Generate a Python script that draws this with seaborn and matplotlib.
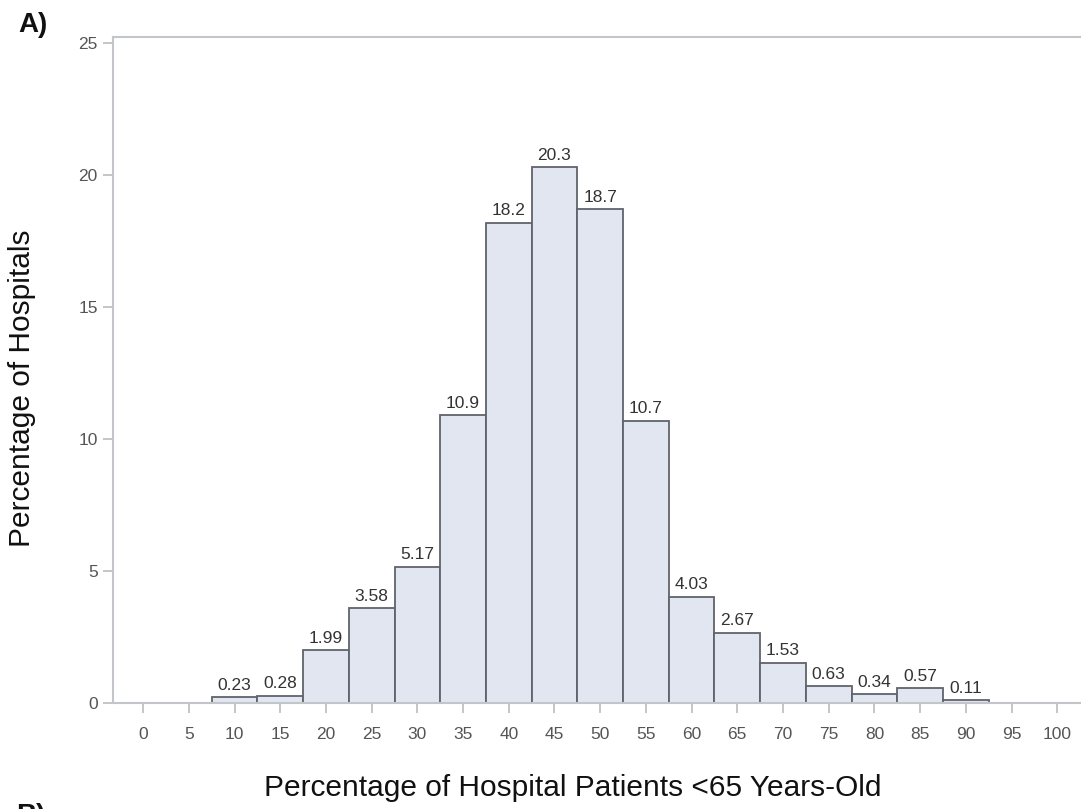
import numpy as np
import pandas as pd
import matplotlib
matplotlib.use("Agg")
import matplotlib.pyplot as plt
import seaborn as sns

# Share of hospitals by percentage of patients under 65 (bin centres, 5-point bins)
bin_centers = [10, 15, 20, 25, 30, 35, 40, 45, 50, 55, 60, 65, 70, 75, 80, 85, 90]
pct_hospitals = [0.23, 0.28, 1.99, 3.58, 5.17, 10.9, 18.2, 20.3, 18.7, 10.7,
                 4.03, 2.67, 1.53, 0.63, 0.34, 0.57, 0.11]
x_ticks = list(range(0, 101, 5))
y_ticks = [0, 5, 10, 15, 20, 25]

df = pd.DataFrame({"center": bin_centers, "pct": pct_hospitals})

sns.set_theme(style="white")
plt.rcParams["font.family"] = ["Liberation Sans", "DejaVu Sans"]

fig = plt.figure(figsize=(10.81, 8.09), dpi=100)
ax = fig.add_axes([113 / 1081, (809 - 703) / 809, 1 - 113 / 1081, (703 - 37) / 809])

sns.histplot(data=df, x="center", weights="pct", binwidth=5, binrange=(7.5, 92.5),
             color="#e1e6f0", edgecolor="#5f636b", linewidth=1.3, alpha=1.0, ax=ax)

labels = [f"{v:.3g}" for v in pct_hospitals]
ax.bar_label(ax.containers[0], labels=labels, padding=3, fontsize=12.5, color="#333333")

ax.set_xlim(-3.3, 102.6)
ax.set_ylim(0, 25.23)
ax.set_xticks(x_ticks)
ax.set_yticks(y_ticks)
ax.set_xticklabels([str(t) for t in x_ticks])
ax.set_yticklabels([str(t) for t in y_ticks])

spine_col = "#c2c6cb"
for side in ["left", "top", "bottom"]:
    ax.spines[side].set_color(spine_col)
    ax.spines[side].set_linewidth(1.5)
ax.spines["right"].set_visible(False)

ax.tick_params(axis="both", which="both", direction="out", length=7, width=1.2,
               color="#b8bcc1", labelsize=12.5, labelcolor="#555555")
ax.tick_params(axis="x", pad=10, bottom=True)
ax.tick_params(axis="y", pad=4, left=True)

ax.set_xlabel("Percentage of Hospital Patients <65 Years-Old", fontsize=21.5, color="#111111")
ax.set_ylabel("Percentage of Hospitals", fontsize=21.5, color="#111111")
ax.xaxis.set_label_coords((573 - 113) / (1081 - 113), -(774 - 703) / (703 - 37))
ax.yaxis.set_label_coords(-(113 - 36) / (1081 - 113), (703 - 388) / (703 - 37))

fig.text(18 / 1081, 1 - 32 / 809, "A)", fontsize=20, fontweight="bold", color="#111111",
         va="baseline", ha="left")
fig.text(16 / 1081, 1 - 803 / 809, "B)", fontsize=20, fontweight="bold", color="#111111",
         va="top", ha="left")

fig.savefig("out.png", dpi=100)
